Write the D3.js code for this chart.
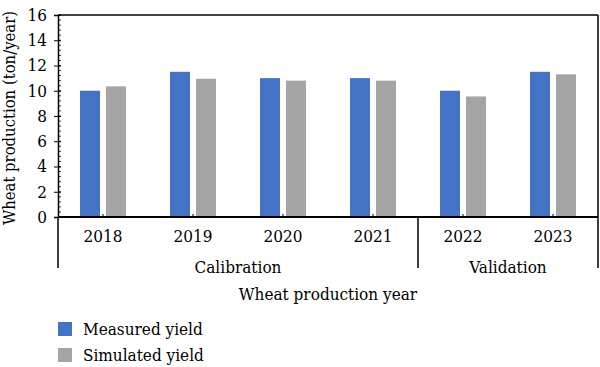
<!DOCTYPE html>
<html>
<head>
<meta charset="utf-8">
<script src="https://cdn.jsdelivr.net/npm/d3@7"></script>
<style>
  body { margin: 0; background: #fff; }
</style>
</head>
<body>
<svg class="chartSVG" width="600" height="367"></svg>
<script>
const years = ["2018", "2019", "2020", "2021", "2022", "2023"]
const measured = [10.0, 11.5, 11.0, 11.0, 10.0, 11.5]
const simulated = [10.35, 10.95, 10.8, 10.8, 9.55, 11.3]
const groups = [
  { name: "Calibration", from: "2018", to: "2021" },
  { name: "Validation", from: "2022", to: "2023" },
]
const seriesNames = ["Measured yield", "Simulated yield"]
const colors = ["#4472c4", "#a5a5a5"]
const yTicks = [0, 2, 4, 6, 8, 10, 12, 14, 16]

const FONT = "'DejaVu Serif Condensed', 'DejaVu Serif', serif"
const svg = d3.select(".chartSVG")
const config = { left: 58, right: 598, top: 15, bottom: 217 }

const x = d3.scaleBand().domain(years).range([config.left, config.right])
const y = d3.scaleLinear().domain([0, 16]).range([config.bottom, config.top])
const barW = 20

// bars
const series = [measured, simulated]
series.forEach((vals, s) => {
  svg.append("g").selectAll("rect")
    .data(vals)
    .join("rect")
    .attr("x", (d, i) => x(years[i]) + x.bandwidth() / 2 + (s == 0 ? -23 : 3))
    .attr("y", d => y(d))
    .attr("width", barW)
    .attr("height", d => y(0) - y(d))
    .attr("fill", colors[s])
})

// y axis with minor ticks
const yAxis = svg.append("g").attr("transform", `translate(${config.left},0)`)
yAxis.call(d3.axisLeft(y).tickValues(yTicks).tickSize(4).tickFormat(d3.format("d")))
yAxis.attr("font-family", FONT)
yAxis.select(".domain").attr("stroke", "#000").attr("stroke-width", 1.5)
yAxis.selectAll(".tick line").attr("stroke", "#000").attr("x2", -4).attr("x1", 3)
yAxis.selectAll(".tick text").attr("font-size", 17).attr("x", -11).attr("fill", "#000")
const minor = d3.range(0, 16.01, 0.4)
yAxis.selectAll(".minor")
  .data(minor)
  .join("line")
  .attr("class", "minor")
  .attr("x1", 0).attr("x2", 3)
  .attr("y1", d => y(d)).attr("y2", d => y(d))
  .attr("stroke", "#000").attr("stroke-width", 0.8)

// frame
svg.append("line").attr("x1", config.left).attr("x2", config.right)
  .attr("y1", config.top).attr("y2", config.top).attr("stroke", "#000").attr("stroke-width", 1.5)
svg.append("line").attr("x1", config.right).attr("x2", config.right)
  .attr("y1", config.top).attr("y2", config.bottom).attr("stroke", "#000").attr("stroke-width", 1.5)
svg.append("line").attr("x1", config.left).attr("x2", config.right)
  .attr("y1", config.bottom).attr("y2", config.bottom).attr("stroke", "#000").attr("stroke-width", 2)

// x ticks at band centers
svg.append("g").selectAll("line")
  .data(years)
  .join("line")
  .attr("x1", d => x(d) + x.bandwidth() / 2).attr("x2", d => x(d) + x.bandwidth() / 2)
  .attr("y1", config.bottom).attr("y2", config.bottom - 3)
  .attr("stroke", "#000")

const txt = svg.append("g").attr("font-family", FONT).attr("font-size", 17).attr("fill", "#000")

txt.append("g").selectAll("text")
  .data(years)
  .join("text")
  .attr("x", d => x(d) + x.bandwidth() / 2)
  .attr("y", 242)
  .attr("text-anchor", "middle")
  .text(d => d)

// group separators and labels
const sepX = [config.left, x(groups[1].from), config.right]
svg.append("g").selectAll("line")
  .data(sepX)
  .join("line")
  .attr("x1", d => d).attr("x2", d => d)
  .attr("y1", config.bottom).attr("y2", 268)
  .attr("stroke", "#000").attr("stroke-width", 1.5)

txt.append("g").selectAll("text")
  .data(groups)
  .join("text")
  .attr("x", d => (x(d.from) + x(d.to) + x.bandwidth()) / 2)
  .attr("y", 273)
  .attr("text-anchor", "middle")
  .text(d => d.name)

// axis titles
txt.append("text")
  .attr("x", (config.left + config.right) / 2)
  .attr("y", 300)
  .attr("text-anchor", "middle")
  .text("Wheat production year")

txt.append("text")
  .attr("transform", `translate(15,${(config.top + config.bottom) / 2 + 2}) rotate(-90)`)
  .attr("text-anchor", "middle")
  .attr("font-size", 16.5)
  .text("Wheat production (ton/year)")

// legend
const legend = txt.append("g").selectAll("g")
  .data(seriesNames)
  .join("g")
  .attr("transform", (d, i) => `translate(58,${322 + i * 26})`)
legend.append("rect").attr("width", 14).attr("height", 14).attr("fill", (d, i) => colors[i])
legend.append("text").attr("x", 25).attr("y", 13).text(d => d)
</script>
</body>
</html>
